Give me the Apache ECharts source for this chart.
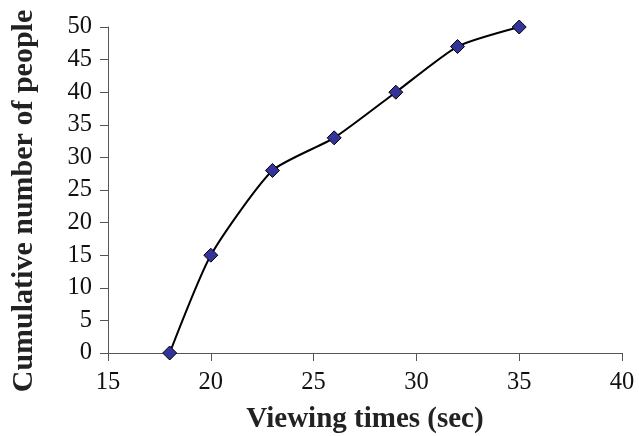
<!DOCTYPE html>
<html>
<head>
<meta charset="utf-8">
<script src="https://cdn.jsdelivr.net/npm/echarts@6/dist/echarts.min.js"></script>
<style>html,body{margin:0;padding:0;background:#fff}#c{width:639px;height:436px}</style>
</head>
<body>
<div id="c"></div>
<script>
const viewingTimes = [18, 20, 23, 26, 29, 32, 35];
const cumulativePeople = [0, 15, 28, 33, 40, 47, 50];
const xTitle = 'Viewing times (sec)';
const yTitle = 'Cumulative number of people';

const chart = echarts.init(document.getElementById('c'), null, {renderer: 'canvas'});
const font = '"Liberation Serif", "Times New Roman", serif';
chart.setOption({
  animation: false,
  backgroundColor: '#fff',
  textStyle: {fontFamily: font, fontSize: 24.5},
  grid: {left: 108, right: 17, top: 27, bottom: 83, containLabel: false, outerBoundsMode: 'none'},
  xAxis: {
    type: 'value', min: 15, max: 40, interval: 5,
    name: xTitle, nameLocation: 'middle', nameGap: 52,
    nameTextStyle: {fontFamily: font, fontWeight: 'bold', fontSize: 29, color: '#222'},
    axisLine: {show: true, lineStyle: {color: '#555', width: 1}},
    axisTick: {show: true, inside: false, length: 8, lineStyle: {color: '#555'}},
    axisLabel: {show: true, fontFamily: font, fontSize: 24.5, color: '#111', margin: 17},
    splitLine: {show: false}
  },
  yAxis: {
    type: 'value', min: 0, max: 50, interval: 5,
    name: yTitle, nameLocation: 'middle', nameGap: 69, nameRotate: 90,
    nameTextStyle: {fontFamily: font, fontWeight: 'bold', fontSize: 30, color: '#222', padding: [0, 22, 0, 0]},
    axisLine: {show: true, lineStyle: {color: '#555', width: 1}},
    axisTick: {show: true, inside: false, length: 8, lineStyle: {color: '#555'}},
    axisLabel: {show: true, fontFamily: font, fontSize: 24.5, color: '#111', margin: 16},
    splitLine: {show: false}
  },
  series: [{
    type: 'line',
    data: viewingTimes.map((x, i) => [x, cumulativePeople[i]]),
    smooth: 0.2,
    symbol: 'diamond',
    symbolSize: 14,
    lineStyle: {color: '#000', width: 2},
    itemStyle: {color: '#333399', borderColor: '#000', borderWidth: 1}
  }]
});
</script>
</body>
</html>
